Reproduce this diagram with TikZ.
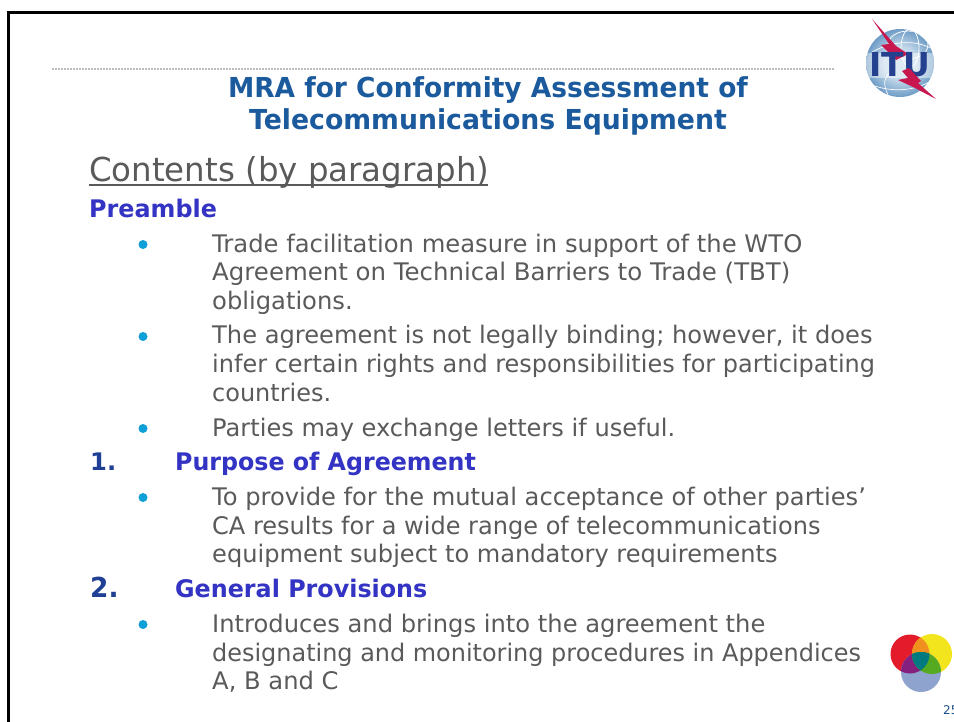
\documentclass[tikz,border=0pt]{standalone}
\usepackage{fontspec}
\setmainfont{DejaVu Sans}
\definecolor{titleblue}{HTML}{1B5A9C}
\definecolor{headblue}{HTML}{3333C4}
\definecolor{numblue}{HTML}{1F3F95}
\definecolor{pageblue}{HTML}{1F4E8C}
\definecolor{bodygrey}{HTML}{5A5A5A}
\definecolor{bulletblue}{HTML}{0FA0D8}
\definecolor{dotgrey}{HTML}{BDBDBD}
\definecolor{ituNavy}{HTML}{24408E}
\definecolor{ituRed}{HTML}{C8174F}
\definecolor{globeA}{HTML}{C4D9EA}
\definecolor{globeB}{HTML}{6E9CC6}
\definecolor{ringred}{HTML}{E31B2B}
\definecolor{ringyellow}{HTML}{F2E51E}
\definecolor{ringblue}{HTML}{8EA4CF}
\definecolor{ringorange}{HTML}{F0901E}
\definecolor{ringpurple}{HTML}{85207F}
\definecolor{ringteal}{HTML}{007A80}
\definecolor{ringgreen}{HTML}{55AA22}
\pgfdeclareradialshading{globeshade}{\pgfpoint{0bp}{0bp}}{color(0bp)=(globeA);color(12bp)=(globeA);color(25bp)=(globeB);color(50bp)=(globeB)}
\tikzset{
 x=1pt,y=-1pt,
 fitw/.style={transform shape,xscale=#1},
 bodyline/.style={anchor=base west,inner sep=0pt,text=bodygrey,font=\fontsize{24.2}{24.2}\selectfont},
 headline/.style={anchor=base west,inner sep=0pt,text=headblue,font=\fontsize{24.2}{24.2}\selectfont\bfseries},
 titleline/.style={anchor=base,inner sep=0pt,text=titleblue,font=\fontsize{27.5}{27.5}\selectfont\bfseries},
 bulletdot/.style={circle,fill=bulletblue,inner sep=0pt,minimum size=9pt},
}
\begin{document}
\begin{tikzpicture}
\useasboundingbox (0,0) rectangle (954,722);
\clip (0,0) rectangle (954,722);
\fill[white] (0,0) rectangle (954,722);
% frame
\draw[line width=2.4pt,black] (8.5,722) -- (8.5,12.5) -- (954,12.5);
% dotted rule
\draw[line width=1.4pt,dotgrey,dash pattern=on 1.5pt off 1.5pt] (52,69) -- (834,69);
% titles
\node[titleline,fitw=.961] (t1) at (488,98) {MRA for Conformity Assessment of};
\node[titleline,fitw=.971] (t2) at (488,130) {Telecommunications Equipment};
% contents
\node[bodyline,font=\fontsize{33}{33}\selectfont,fitw=.983] (c) at (89,182) {Contents (by paragraph)};
\draw[line width=1.3pt,bodygrey] (89,185) -- (488,185);
\node[headline,fitw=.985] (pre) at (89,218) {Preamble};
% bullets
\node[bulletdot] (b1) at (143,244.5) {};
\node[bodyline,fitw=1.002] (l1) at (212,253) {Trade facilitation measure in support of the WTO};
\node[bodyline,fitw=1.01] (l2) at (212,281) {Agreement on Technical Barriers to Trade (TBT)};
\node[bodyline] (l3) at (212,310) {obligations.};
\node[bulletdot] (b2) at (143,336.5) {};
\node[bodyline,fitw=.998] (l4) at (212,344) {The agreement is not legally binding; however, it does};
\node[bodyline,fitw=.991] (l5) at (212,373) {infer certain rights and responsibilities for participating};
\node[bodyline,fitw=.99] (l6) at (212,401) {countries.};
\node[bulletdot] (b3) at (143,428.5) {};
\node[bodyline,fitw=.996] (l7) at (212,436) {Parties may exchange letters if useful.};
\node[headline,text=numblue] (n1) at (90,470) {1.};
\node[headline,fitw=.98] (h1) at (175,470) {Purpose of Agreement};
\node[bulletdot] (b4) at (143,497.5) {};
\node[bodyline,fitw=.998] (l8) at (212,505) {To provide for the mutual acceptance of other parties’};
\node[bodyline,fitw=.993] (l9) at (212,534) {CA results for a wide range of telecommunications};
\node[bodyline,fitw=.995] (l10) at (212,562) {equipment subject to mandatory requirements};
\node[headline,text=numblue,font=\fontsize{27.5}{27.5}\selectfont\bfseries,fitw=.96] (n2) at (90,597) {2.};
\node[headline,fitw=.984] (h2) at (175,597) {General Provisions};
\node[bulletdot] (b5) at (143,624.5) {};
\node[bodyline] (l11) at (212,632) {Introduces and brings into the agreement the};
\node[bodyline,fitw=.989] (l12) at (212,661) {designating and monitoring procedures in Appendices};
\node[bodyline] (l13) at (212,689) {A, B and C};
% ITU logo
\shade[shading=globeshade] (900,63) circle[radius=34];
\begin{scope}
\clip (900,63) circle[radius=34];
\draw[white,line width=.8pt] (908,45) ellipse[x radius=20,y radius=14];
\draw[white,line width=.8pt] (910,48) ellipse[x radius=9,y radius=19];
\draw[white,line width=.7pt] (872,52) .. controls (890,42) and (915,38) .. (934,50);
\draw[white,line width=.7pt] (872,85) .. controls (890,92) and (915,92) .. (932,80);
\draw[white,line width=.7pt] (888,95) .. controls (882,82) and (885,78) .. (890,72);
\fill[white,opacity=.45] (866,53) rectangle (934,78);
\end{scope}
\fill[ituRed] (872,19) -- (896,46) -- (908,54) -- (896,60) -- (881,45) -- (889,44) -- cycle;
\node[anchor=base,inner sep=0pt,text=ituNavy,font=\fontsize{33}{33}\selectfont\bfseries] (itu) at (900,76.5) {ITU};
\fill[ituRed] (909,68) -- (921,81) -- (918,83) -- (936,99) -- (913,87) -- (898,80) -- (908,78) -- (902,71) -- cycle;
% three circles
\fill[ringred] (910,654) circle[radius=19.5];
\fill[ringyellow] (932,654) circle[radius=20];
\fill[ringblue] (921,672) circle[radius=20];
\begin{scope}
\clip (910,654) circle[radius=19.5];
\fill[ringorange] (932,654) circle[radius=20];
\fill[ringpurple] (921,672) circle[radius=20];
\clip (932,654) circle[radius=20];
\fill[ringteal] (921,672) circle[radius=20];
\end{scope}
\begin{scope}
\clip (932,654) circle[radius=20];
\clip (921,672) circle[radius=20];
\fill[ringgreen] (932,654) circle[radius=20];
\clip (910,654) circle[radius=19.5];
\fill[ringteal] (921,672) circle[radius=20];
\end{scope}
\node[anchor=base west,inner sep=0pt,text=pageblue,font=\fontsize{12}{12}\selectfont] (pg) at (943,714) {25};
\end{tikzpicture}
\end{document}
